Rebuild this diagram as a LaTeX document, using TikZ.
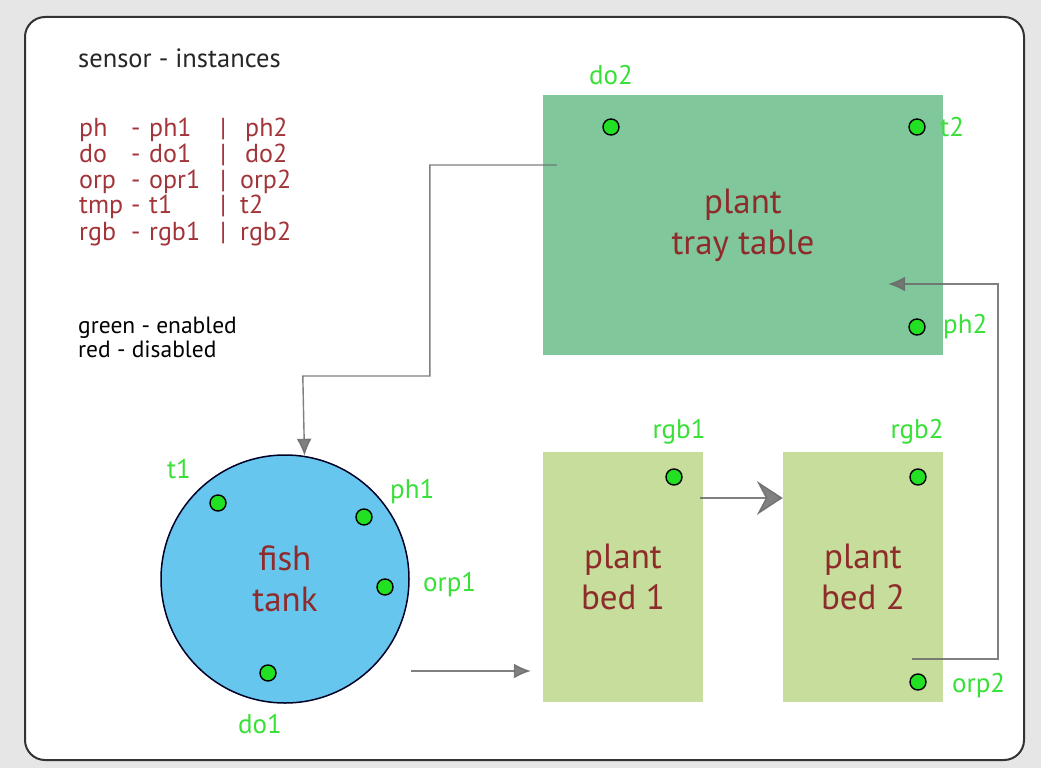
\documentclass[tikz,border=0pt]{standalone}
\usepackage{fontspec}
\setmainfont{PT Sans}
\usetikzlibrary{arrows.meta,calc}
\definecolor{bgcol}{HTML}{E6E6E6}
\definecolor{traycol}{HTML}{80C89B}
\definecolor{bedcol}{HTML}{C6DD9B}
\definecolor{fishcol}{HTML}{66C6EE}
\definecolor{dotcol}{HTML}{22E022}
\definecolor{lblcol}{HTML}{38E038}
\definecolor{darkred}{HTML}{8E2B2B}
\definecolor{legred}{HTML}{A3353A}
\definecolor{conncol}{HTML}{6A6A6A}
\newcommand{\lrow}[4]{\makebox[52pt][l]{#1}\makebox[18pt][l]{-}\makebox[71pt][l]{#2}\makebox[#3][l]{|}#4}
\begin{document}
\begin{tikzpicture}[x=1pt,y=-1pt,
  box/.style={rectangle,inner sep=0pt,draw=none,text=darkred,font=\fontsize{35}{41}\selectfont,align=center},
  sensor/.style={circle,draw=black,line width=1.4pt,fill=dotcol,minimum size=16pt,inner sep=0pt},
  lbl/.style={text=lblcol,font=\fontsize{27}{30}\selectfont,inner sep=0pt},
  legtxt/.style={anchor=base west,inner sep=0pt,text=legred,font=\fontsize{26}{26}\selectfont},
  conn/.style={draw=conncol,line width=1.4pt,draw opacity=0.85,fill opacity=0.85},
  tipsmall/.style={-{Latex[length=17pt,width=15pt]}},
]
\fill[bgcol] (0,0) rectangle (1041,768);
\useasboundingbox (0,0) rectangle (1041,768);
\node[draw=black!80,line width=2pt,fill=white,rounded corners=20pt,minimum width=999pt,minimum height=743pt,inner sep=0pt] (frame) at (524.5,388.5) {};

% legend
\node[anchor=base west,inner sep=0pt,text=black!85,font=\fontsize{26.5}{26}\selectfont] (title) at (78,67) {sensor - instances};
\node[legtxt] (leg1) at (79,136) {\lrow{ph}{ph1}{25pt}{ph2}};
\node[legtxt] (leg2) at (79,162) {\lrow{do}{do1}{25pt}{do2}};
\node[legtxt] (leg3) at (79,188) {\lrow{orp}{opr1}{20pt}{orp2}};
\node[legtxt] (leg4) at (79,213) {\lrow{tmp}{t1}{20pt}{t2}};
\node[legtxt] (leg5) at (79,240) {\lrow{rgb}{rgb1}{20pt}{rgb2}};
\node[anchor=base west,inner sep=0pt,text=black,font=\fontsize{23.5}{24}\selectfont] (green) at (78,333) {green - enabled};
\node[anchor=base west,inner sep=0pt,text=black,font=\fontsize{23.5}{24}\selectfont] (red) at (78,357) {red - disabled};

% main components
\node[box,fill=traycol,minimum width=400pt,minimum height=260pt] (tray) at (743,225) {plant\\tray table};
\node[box,fill=bedcol,minimum width=160pt,minimum height=250pt] (bed1) at (623,577) {plant\\bed 1};
\node[box,fill=bedcol,minimum width=160pt,minimum height=250pt] (bed2) at (863,577) {plant\\bed 2};
\node[box,circle,fill=fishcol,draw=black!85!blue,line width=1.5pt,minimum size=248pt] (fish) at (285,579) {fish\\tank};

% sensors
\node[sensor] (do2) at (611,127) {};
\node[sensor] (t2) at (917,127) {};
\node[sensor] (ph2) at (917,327) {};
\node[sensor] (t1) at (218,503) {};
\node[sensor] (ph1) at (364,517) {};
\node[sensor] (orp1) at (385,587) {};
\node[sensor] (do1) at (268,673) {};
\node[sensor] (rgb1) at (674,477) {};
\node[sensor] (rgb2) at (918,477) {};
\node[sensor] (orp2) at (918,682) {};

% sensor labels
\node[lbl] (do2l) at (611,75) {do2};
\node[lbl,anchor=west] (t2l) at (940,127) {t2};
\node[lbl,anchor=west] (ph2l) at (943,327) {ph2};
\node[lbl] (t1l) at (179,469) {t1};
\node[lbl,anchor=west] (ph1l) at (390,492) {ph1};
\node[lbl,anchor=west] (orp1l) at (423,585) {orp1};
\node[lbl] (do1l) at (260,724) {do1};
\node[lbl] (rgb1l) at (679,432) {rgb1};
\node[lbl] (rgb2l) at (917,432) {rgb2};
\node[lbl,anchor=west] (orp2l) at (952,686) {orp2};

% connectors
\coordinate (s1) at ($(tray.west)+(14,-60)$);
\draw[conn,tipsmall] (s1) -- ++(-127,0) -- ++(0,211) -- ++(-127,0) -- (fish.81.6);
\draw[conn,tipsmall] ($(fish.east)+(1,92)$) -- ($(bed1.west)+(-12,94)$);
\draw[conn,-{Stealth[length=26pt,width=34pt,inset=9pt]}] ($(bed1.east)+(-3,-79)$) -- ($(bed2.west)+(0,-79)$);
\coordinate (s4) at ($(bed2.center)+(49,82)$);
\coordinate (e4) at ($(tray.east)+(-55,59)$);
\draw[conn,tipsmall] (s4) -- ++(86,0) |- (e4);
\end{tikzpicture}
\end{document}
